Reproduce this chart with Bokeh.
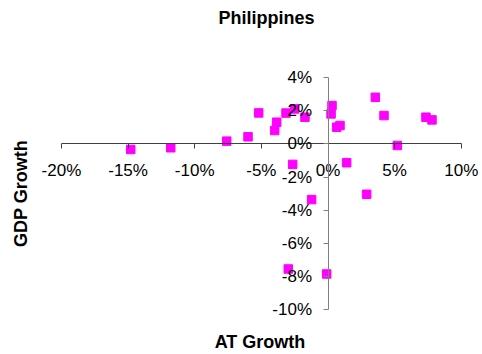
from bokeh.plotting import figure
from bokeh.models import (Range1d, FixedTicker, PrintfTickFormatter, Label, LinearAxis)
from bokeh.embed import file_html
from bokeh.resources import INLINE

# Data (percent)
at_growth = [-14.8, -11.8, -7.6, -6.0, -5.2, -4.0, -3.85, -3.15, -2.5, -2.65,
             -1.73, 0.3, 0.23, 0.65, 0.9, 3.55, 4.2, 7.35, 7.8, 5.2,
             1.4, 2.9, -1.23, -2.98, -0.1]
gdp_growth = [-0.34, -0.24, 0.16, 0.42, 1.86, 0.8, 1.3, 1.85, 2.1, -1.24,
              1.6, 2.3, 1.8, 1.0, 1.1, 2.8, 1.7, 1.6, 1.44, -0.1,
              -1.14, -3.04, -3.36, -7.54, -7.84]
x_ticks = [-20, -15, -10, -5, 0, 5, 10]
y_ticks = [-10, -8, -6, -4, -2, 0, 2, 4]
title_text = "Philippines"
x_title = "AT Growth"
y_title = "GDP Growth"

FONT = "Liberation Sans"
W, H = 482, 354

# Frame covers the whole canvas; the axes are bounded to the data extent.
p = figure(width=W, height=H, output_backend="svg", toolbar_location=None,
           x_range=Range1d(-24.57, 11.59), y_range=Range1d(-12.69, 8.63),
           x_axis_location=None, y_axis_location=None,
           min_border_left=0, min_border_right=0,
           min_border_top=0, min_border_bottom=0)
p.outline_line_color = None
p.xgrid.visible = False
p.ygrid.visible = False
p.background_fill_color = "white"
p.border_fill_color = "white"

xa = LinearAxis(ticker=FixedTicker(ticks=x_ticks),
                formatter=PrintfTickFormatter(format="%d%%"))
xa.fixed_location = 0
xa.bounds = (-20, 10)
xa.axis_line_color = "#404040"
xa.major_tick_line_color = "#404040"
xa.major_tick_in = 0
xa.major_tick_out = 5
xa.minor_tick_line_color = None
xa.major_label_standoff = 12
xa.major_label_text_font = FONT
xa.major_label_text_font_size = "17px"
xa.major_label_text_color = "black"
p.add_layout(xa, "below")

ya = LinearAxis(ticker=FixedTicker(ticks=y_ticks),
                formatter=PrintfTickFormatter(format="%d%%"))
ya.fixed_location = 0
ya.bounds = (-10, 4)
ya.axis_line_color = "#808080"
ya.major_tick_line_color = "#808080"
ya.major_tick_in = 0
ya.major_tick_out = 5
ya.minor_tick_line_color = None
ya.major_label_standoff = 11
ya.major_label_text_font = FONT
ya.major_label_text_font_size = "17px"
ya.major_label_text_color = "black"
p.add_layout(ya, "left")

p.scatter(at_growth, gdp_growth, marker="square", size=8.5,
          fill_color="#FF00FF", line_color="#FF00FF")

# Titles (screen units: x from left, y from bottom of the frame/canvas)
p.add_layout(Label(x=266, y=H - 17, x_units="screen", y_units="screen",
                   text=title_text, text_align="center", text_baseline="middle",
                   text_color="black",
                   text_font=FONT, text_font_size="18px", text_font_style="bold"))
p.add_layout(Label(x=259.5, y=H - 341, x_units="screen", y_units="screen",
                   text=x_title, text_align="center", text_baseline="middle",
                   text_color="black",
                   text_font=FONT, text_font_size="18px", text_font_style="bold"))
p.add_layout(Label(x=20.5, y=H - 193, x_units="screen", y_units="screen",
                   text=y_title, text_align="center", text_baseline="middle",
                   angle=1.5708, text_color="black",
                   text_font=FONT, text_font_size="18px", text_font_style="bold"))

open("out.html", "w").write(file_html(p, INLINE))
